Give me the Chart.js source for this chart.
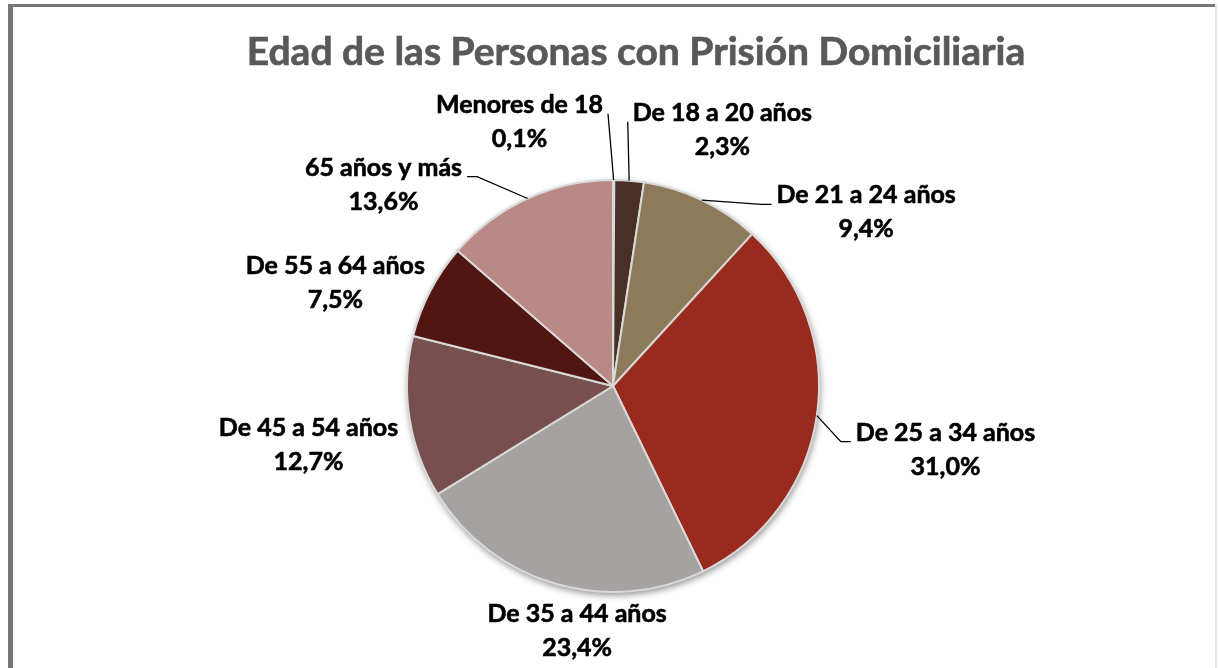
<!DOCTYPE html>
<html>
<head>
<meta charset="utf-8">
<script src="https://cdn.jsdelivr.net/npm/chart.js@4"></script>
<style>
  html, body { margin: 0; padding: 0; background: #fff; }
  canvas { display: block; }
</style>
</head>
<body>
<canvas id="pieChart" width="1218" height="668"></canvas>
<script>
// data
const categories = [
    'Menores de 18',
    'De 18 a 20 años',
    'De 21 a 24 años',
    'De 25 a 34 años',
    'De 35 a 44 años',
    'De 45 a 54 años',
    'De 55 a 64 años',
    '65 años y más'
];
const percentages = [0.1, 2.3, 9.4, 31.0, 23.4, 12.7, 7.5, 13.6];

const sliceColors = [
    '#7d6a63', '#4a2f27', '#8c7a5b', '#992b1e',
    '#a6a2a1', '#764f4e', '#521612', '#b98985'
];

const TITLE = 'Edad de las Personas con Prisión Domiciliaria';

// label block centre, in units of the pie radius, relative to the pie centre
const labelSpots = [
    [-0.454, -1.283], [0.531, -1.244], [1.229, -0.843], [1.614, 0.309],
    [-0.174, 1.188], [-1.478, 0.285], [-1.348, -0.498], [-1.114, -0.978]
];
const hasLeader = [true, true, true, true, false, false, false, true];

const LABEL_FONT = 'bold 25px Lato';
const LINE_GAP = 34;

/*
 * frame and title
 */
const chartFrame = {
    id: 'chartFrame',
    beforeDraw(chart) {
        const ctx = chart.ctx;
        ctx.save();
        ctx.fillStyle = '#777777';
        ctx.fillRect(8, 4, 1208, 3);
        ctx.fillRect(8, 4, 5, 664);
        ctx.fillStyle = '#e3e3e3';
        ctx.fillRect(1215, 4, 2, 664);

        ctx.font = 'bold 39px Lato';
        ctx.fillStyle = '#595959';
        ctx.strokeStyle = '#595959';
        ctx.lineWidth = 0.7;
        ctx.textAlign = 'center';
        ctx.textBaseline = 'middle';
        ctx.fillText(TITLE, 636, 52);
        ctx.strokeText(TITLE, 636, 52);
        ctx.restore();
    }
};

/*
 * soft shadow under the pie
 */
const pieShadow = {
    id: 'pieShadow',
    beforeDatasetsDraw(chart) {
        const arc = chart.getDatasetMeta(0).data[0];
        if (!arc) return;
        const ctx = chart.ctx;
        ctx.save();
        ctx.shadowColor = 'rgba(0,0,0,0.45)';
        ctx.shadowBlur = 7;
        ctx.shadowOffsetX = 1;
        ctx.shadowOffsetY = 3;
        ctx.fillStyle = '#ffffff';
        ctx.beginPath();
        ctx.arc(arc.x, arc.y, arc.outerRadius, 0, Math.PI * 2);
        ctx.fill();
        ctx.restore();
    }
};

/*
 * outside labels with leader lines
 */
const outsideLabels = {
    id: 'outsideLabels',
    afterDatasetsDraw(chart) {
        const ctx = chart.ctx;
        const arcs = chart.getDatasetMeta(0).data;
        ctx.save();
        ctx.font = LABEL_FONT;
        ctx.fillStyle = '#000000';
        ctx.strokeStyle = '#000000';
        ctx.textAlign = 'center';
        ctx.textBaseline = 'middle';

        arcs.forEach((arc, i) => {
            const r = arc.outerRadius;
            const cx = arc.x + labelSpots[i][0] * r;
            const cy = arc.y + labelSpots[i][1] * r;
            const line1 = categories[i];
            const line2 = percentages[i].toFixed(1).replace('.', ',') + '%';
            const y1 = cy - LINE_GAP / 2;
            const y2 = cy + LINE_GAP / 2;
            ctx.lineWidth = 0.6;
            ctx.fillText(line1, cx, y1);
            ctx.strokeText(line1, cx, y1);
            ctx.fillText(line2, cx, y2);
            ctx.strokeText(line2, cx, y2);

            if (!hasLeader[i]) return;
            const mid = (arc.startAngle + arc.endAngle) / 2;
            const px = arc.x + Math.cos(mid) * r;
            const py = arc.y + Math.sin(mid) * r;
            const half = ctx.measureText(line1).width / 2;
            const onRight = cx > arc.x;
            const ex = onRight ? cx - half - 5 : cx + half + 5;
            const ey = y1 + 9;
            const steep = Math.abs(cx - arc.x) < r * 0.7 && py > ey + 40;

            ctx.lineWidth = 1.3;
            ctx.beginPath();
            ctx.moveTo(px, py);
            if (steep && Math.abs(ex - px) < 30) {
                ctx.lineTo(ex, ey);
            } else {
                const elbow = onRight ? ex - 10 : ex + 10;
                ctx.lineTo(elbow, ey);
                ctx.lineTo(ex, ey);
            }
            ctx.stroke();
        });
        ctx.restore();
    }
};

const ctx = document.getElementById('pieChart').getContext('2d');
const pieChart = new Chart(ctx, {
    type: 'pie',
    plugins: [chartFrame, pieShadow, outsideLabels],
    data: {
        labels: categories,
        datasets: [{
            data: percentages,
            backgroundColor: sliceColors,
            borderColor: '#d9d9d9',
            borderWidth: 2
        }]
    },
    options: {
        responsive: false,
        animation: false,
        layout: {
            padding: { top: 179, bottom: 75, left: 8, right: 0 }
        },
        plugins: {
            legend: { display: false },
            tooltip: { enabled: false },
            title: { display: false }
        }
    }
});
</script>
</body>
</html>
